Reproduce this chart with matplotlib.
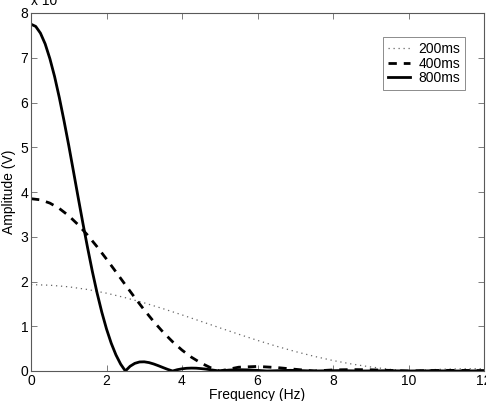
import matplotlib
matplotlib.use("Agg")
import matplotlib.pyplot as plt

plt.rcParams['font.family'] = ['Liberation Sans', 'DejaVu Sans']

# 200ms pulse, read at 0.5 Hz steps
f200 = [0, 0.5, 1, 1.5, 2, 2.5, 3, 3.5, 4, 4.5, 5, 5.5, 6, 6.5, 7, 7.5, 8,
        8.5, 9, 9.5, 10, 10.5, 11, 11.5, 12]
a200 = [1.93, 1.917, 1.881, 1.821, 1.739, 1.638, 1.522, 1.392, 1.254, 1.110,
        0.965, 0.822, 0.684, 0.554, 0.435, 0.328, 0.234, 0.155, 0.090, 0.038,
        0, 0.026, 0.043, 0.050, 0.051]

# 400ms pulse
f400 = [0, 0.25, 0.5, 0.75, 1, 1.25, 1.5, 1.75, 2, 2.25, 2.5, 2.75, 3, 3.25,
        3.5, 3.75, 4, 4.25, 4.5, 4.75, 5, 5.5, 6, 6.5, 7, 7.5, 8, 8.5, 9, 9.5,
        10, 10.5, 11, 11.5, 12]
a400 = [3.85, 3.825, 3.752, 3.632, 3.469, 3.268, 3.035, 2.777, 2.501, 2.215,
        1.925, 1.639, 1.364, 1.105, 0.867, 0.654, 0.467, 0.308, 0.179, 0.076,
        0, 0.085, 0.102, 0.078, 0.038, 0, 0.024, 0.032, 0.027, 0.014,
        0, 0.010, 0.014, 0.013, 0.007]

# 800ms pulse
f800 = [0, 0.125, 0.25, 0.375, 0.5, 0.625, 0.75, 0.875, 1, 1.125, 1.25, 1.375,
        1.5, 1.625, 1.75, 1.875, 2, 2.125, 2.25, 2.375, 2.5, 2.625, 2.75,
        2.875, 3, 3.125, 3.25, 3.375, 3.5, 3.625, 3.75, 3.875, 4, 4.125, 4.25,
        4.375, 4.5, 4.625, 4.75, 4.875, 5, 5.25, 5.5, 5.75, 6, 6.25, 6.875,
        7.5, 8.125, 8.75, 9.375, 10, 10.625, 11.25, 11.875, 12]
a800 = [7.75, 7.70, 7.55, 7.31, 6.98, 6.58, 6.11, 5.59, 5.04, 4.46, 3.875, 3.30,
        2.75, 2.225, 1.745, 1.316, 0.940, 0.621, 0.360, 0.153, 0, 0.106, 0.171,
        0.202, 0.205, 0.188, 0.157, 0.118, 0.076, 0.035, 0, 0.029, 0.049,
        0.061, 0.065, 0.063, 0.054, 0.043, 0.028, 0.014, 0, 0.021, 0.029,
        0.025, 0.014, 0, 0.015, 0, 0.009, 0, 0.006, 0, 0.004, 0, 0.003, 0.002]

fig = plt.figure(figsize=(4.86, 4.01), dpi=100)
ax = fig.add_axes([31/486, 30/401, 453/486, 358/401])

ax.plot(f200, a200, color='0.4', lw=0.9, linestyle=(0, (1, 3)), label='200ms')
ax.plot(f400, a400, color='black', lw=2, linestyle=(0, (3, 2.5)), label='400ms')
ax.plot(f800, a800, color='black', lw=2, label='800ms')

ax.set_xlim(0, 12)
ax.set_ylim(0, 8)
ax.set_xticks(range(0, 13, 2))
ax.set_yticks(range(0, 9))
ax.tick_params(direction='in', top=True, right=True, labelsize=10,
               length=4, width=0.6, color='0.4', pad=2)
for s in ax.spines.values():
    s.set_color('0.35')
    s.set_linewidth(0.8)

ax.set_xlabel('Frequency (Hz)', fontsize=10, labelpad=0)
ax.set_ylabel('Amplitude (V)', fontsize=10, labelpad=3)

fig.text(31/486, 1 - 5/401, 'x 10', fontsize=10, va='baseline')

leg = ax.legend(loc='upper right', bbox_to_anchor=(0.958, 0.933),
                borderaxespad=0, fancybox=False, fontsize=10,
                handlelength=1.6, labelspacing=0.05, borderpad=0.35,
                handletextpad=0.6)
leg.get_frame().set_edgecolor('0.35')
leg.get_frame().set_linewidth(0.6)

fig.savefig('out.png', dpi=100)
